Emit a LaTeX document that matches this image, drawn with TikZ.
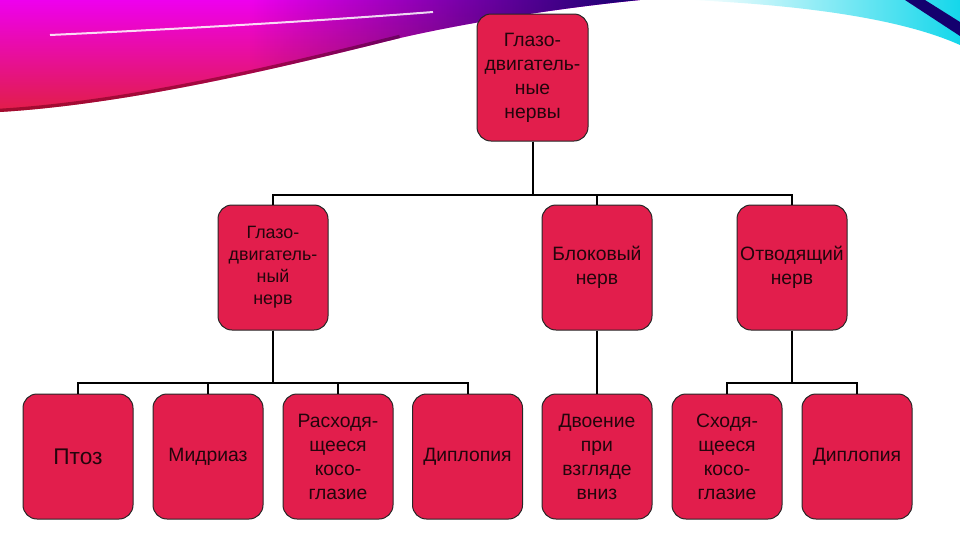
\documentclass[tikz,border=0pt]{standalone}
\usepackage{fontspec}
\setmainfont{Liberation Sans}
\usepackage{tikz}
\usetikzlibrary{positioning, fadings}

\definecolor{boxred}{RGB}{226,30,76}
\definecolor{inkdark}{RGB}{35,5,12}
\definecolor{swmagenta}{RGB}{238,0,238}
\definecolor{swnavy}{RGB}{20,0,110}
\definecolor{swred}{RGB}{225,30,70}
\definecolor{swdark}{RGB}{120,0,30}
\definecolor{swcyan}{RGB}{20,215,235}

\tikzfading[name=navyfade, left color=transparent!100, right color=transparent!0]

\tikzset{
    nervebox/.style={draw=black!85, line width=0.75pt, fill=boxred, rounded corners=10.5pt,
        minimum width=82.5pt, minimum height=93.75pt, inner sep=1pt, align=center,
        text=inkdark, font=\fontsize{14.5}{18}\selectfont},
    link/.style={draw=black, line width=1.5pt}
}

\begin{document}
\begin{tikzpicture}[x=0.75pt, y=-0.75pt]
                \useasboundingbox (0,0) rectangle (960,540);

                % slide background streaks
                \begin{scope}
                    \clip (0,0) -- (640,0) .. controls (560,8) and (470,22) .. (400,38) .. controls (280,68) and (130,104) .. (0,112) -- cycle;
                    \shade[top color=swmagenta, bottom color=swred] (0,0) rectangle (640,112);
                    \draw[color=swdark, line width=5pt, opacity=0.6] (400,38) .. controls (280,68) and (130,104) .. (0,112);
                    \fill[color=swnavy, path fading=navyfade] (250,0) rectangle (640,112);
                    \draw[color=white, line width=1.5pt, opacity=0.85] (50,35) .. controls (200,28) and (330,20) .. (433,12);
                \end{scope}
                \shade[left color=white, right color=swcyan] (690,0) -- (960,0) -- (960,45) .. controls (900,18) and (800,5) .. (690,0) -- cycle;
                \fill[color=swnavy] (905,0) -- (925,0) -- (960,22) -- (960,36) -- cycle;

                \node[nervebox, minimum width=83.25pt, minimum height=95.25pt] (root) at (532.5,77.5) {Глазо-\\двигатель-\\ные\\нервы};

                \node[nervebox, font=\fontsize{13.4}{16.5}\selectfont] (oculo) at (273,267.5) {Глазо-\\двигатель-\\ный\\нерв};
                \node[nervebox] (troch) at (597,267.5) {Блоковый\\нерв};
                \node[nervebox] (abduc) at (792,267.5) {Отводящий\\нерв};

                \node[nervebox, font=\fontsize{17}{20}\selectfont] (ptosis) at (78,456.5) {Птоз};
                \node[nervebox] (mydr) at (208,456.5) {Мидриаз};
                \node[nervebox] (diverg) at (338,456.5) {Расходя-\\щееся\\косо-\\глазие};
                \node[nervebox] (diplA) at (467.5,456.5) {Диплопия};
                \node[nervebox] (double) at (597,456.5) {Двоение\\при\\взгляде\\вниз};
                \node[nervebox] (converg) at (727,456.5) {Сходя-\\щееся\\косо-\\глазие};
                \node[nervebox] (diplB) at (857,456.5) {Диплопия};

                \coordinate (busT) at (0,195);
                \coordinate (busB) at (0,383);

                \foreach \c in {oculo, troch, abduc}
                    \draw[link] (root.south) -- (root.south |- busT) -| (\c.north);
                \foreach \c in {ptosis, mydr, diverg, diplA}
                    \draw[link] (oculo.south) -- (oculo.south |- busB) -| (\c.north);
                \draw[link] (troch.south) -- (double.north);
                \foreach \c in {converg, diplB}
                    \draw[link] (abduc.south) -- (abduc.south |- busB) -| (\c.north);
            \end{tikzpicture}
\end{document}
